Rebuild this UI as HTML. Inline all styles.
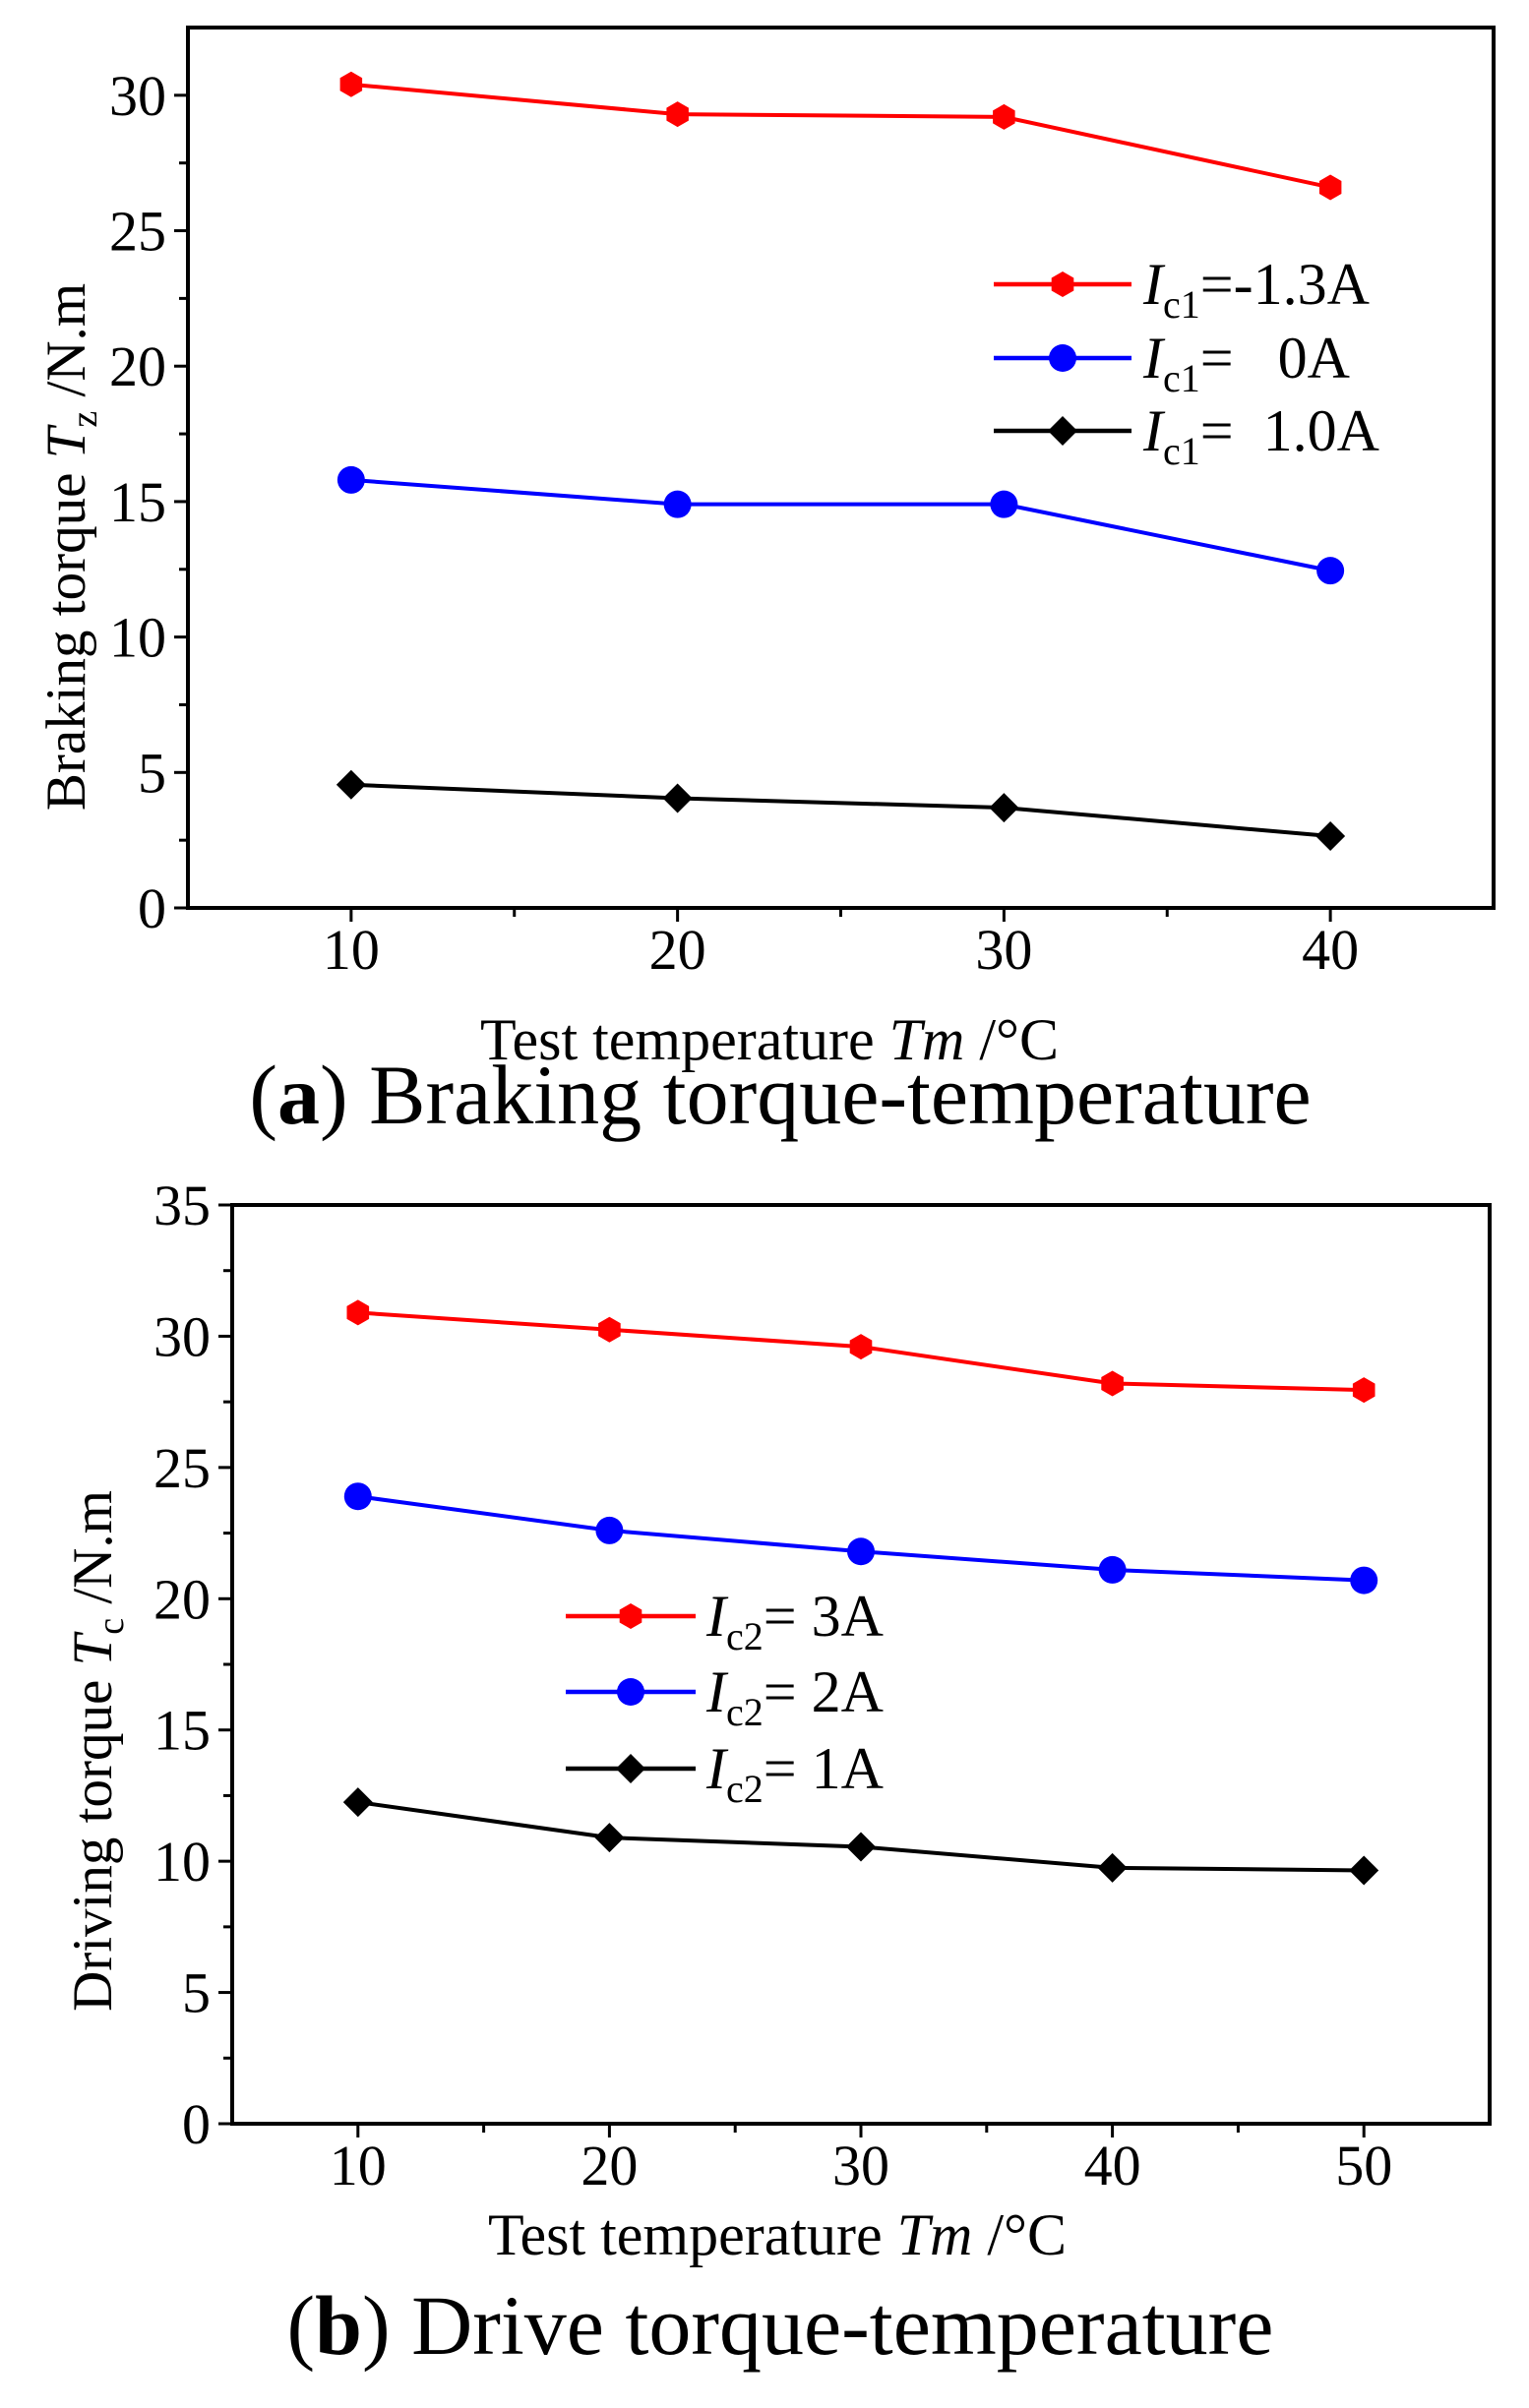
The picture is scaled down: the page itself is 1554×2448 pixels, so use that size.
<!DOCTYPE html>
<html><head><meta charset="utf-8"><style>
body{margin:0;background:#fff}
svg{display:block;font-family:"Liberation Serif",serif}
</style></head><body>
<svg id="s" width="1554" height="2448" viewBox="0 0 1554 2448" xmlns="http://www.w3.org/2000/svg"></svg>
<script>
const aX = [10, 20, 30, 40];
const aRed = [30.4, 29.3, 29.2, 26.6];
const aBlue = [15.8, 14.9, 14.9, 12.45];
const aBlack = [4.55, 4.05, 3.7, 2.65];
const aXTicks = [10, 20, 30, 40];
const aYTicks = [0, 5, 10, 15, 20, 25, 30];
const bX = [10, 20, 30, 40, 50];
const bRed = [30.9, 30.25, 29.6, 28.2, 27.95];
const bBlue = [23.9, 22.6, 21.8, 21.1, 20.7];
const bBlack = [12.25, 10.9, 10.55, 9.75, 9.65];
const bXTicks = [10, 20, 30, 40, 50];
const bYTicks = [0, 5, 10, 15, 20, 25, 30, 35];

const S = document.getElementById('s');
const NS = 'http://www.w3.org/2000/svg';
function mk(tag, attrs, parent){const e=document.createElementNS(NS,tag);for(const k in attrs)e.setAttribute(k,attrs[k]);(parent||S).appendChild(e);return e;}

function marker(g, type, x, y, color){
  let e;
  if(type==='hex'){
    const r=13, pts=[];
    for(let i=0;i<6;i++){const a=Math.PI/6+i*Math.PI/3;pts.push((x+r*Math.cos(a)).toFixed(1)+','+(y+r*Math.sin(a)).toFixed(1));}
    e=mk('polygon',{points:pts.join(' '),fill:color},g);
  } else if(type==='circle'){
    e=mk('circle',{cx:x,cy:y,r:14,fill:color},g);
  } else {
    const r=15;
    e=mk('polygon',{points:`${x},${y-r} ${x+r},${y} ${x},${y+r} ${x-r},${y}`,fill:color},g);
  }
  
  
}

function chart(c){
  const g=mk('g',{});
  
  
  const sx=v=>c.L+(v-c.xmin)/(c.xmax-c.xmin)*(c.R-c.L);
  const sy=v=>c.B-(v-c.ymin)/(c.ymax-c.ymin)*(c.B-c.T);
  c.yTicks.forEach((t,i)=>{
    const y=sy(t);
    const tk=mk('line',{x1:c.L-14,x2:c.L,y1:y,y2:y,stroke:'#000','stroke-width':3},g);
    
    
    const ym=sy(t+c.yStep/2);
    if(ym>c.T){mk('line',{x1:c.L-9,x2:c.L,y1:ym,y2:ym,stroke:'#000','stroke-width':3},g);}
    const tx=mk('text',{x:c.L-22,y:y+20,'text-anchor':'end','font-size':58},g);
    tx.textContent=t;
    
    
  });
  c.xTicks.forEach((t,i)=>{
    const x=sx(t);
    const tk=mk('line',{x1:x,x2:x,y1:c.B,y2:c.B+14,stroke:'#000','stroke-width':3},g);
    
    
    const xm=sx(t+5);
    if(xm<c.R)mk('line',{x1:xm,x2:xm,y1:c.B,y2:c.B+9,stroke:'#000','stroke-width':3},g);
    const tx=mk('text',{x:x,y:c.xLabY,'text-anchor':'middle','font-size':58},g);
    tx.textContent=t;
    
    
  });
  const box=mk('rect',{x:c.L,y:c.T,width:c.R-c.L,height:c.B-c.T,fill:'none',stroke:'#000','stroke-width':4},g);
  
  
  c.series.forEach(s=>{
    const sg=mk('g',{},g);
    
    
    const pts=c.xs.map((x,i)=>sx(x)+','+sy(s.v[i])).join(' ');
    mk('polyline',{points:pts,fill:'none',stroke:s.color,'stroke-width':4},sg);
    c.xs.forEach((x,i)=>marker(sg,s.type,sx(x),sy(s.v[i]),s.color));
  });
  c.series.forEach((s,i)=>{
    const lg=mk('g',{},g);
    
    
    const y=c.legY[i];
    mk('line',{x1:c.legX1,x2:c.legX2,y1:y,y2:y,stroke:s.color,'stroke-width':4.5},lg);
    marker(lg,s.type,(c.legX1+c.legX2)/2,y,s.color);
    const t=mk('text',{x:c.legT,y:y+20,'font-size':60},lg);
    t.innerHTML=`<tspan font-style="italic">I</tspan><tspan font-size="40" dy="14">${c.sub}</tspan><tspan dy="-14" xml:space="preserve">${s.label}</tspan>`;
  });
  const yt=mk('text',{x:0,y:0,'text-anchor':'middle','font-size':57,transform:`translate(${c.yTitleX},${c.yTitleY}) rotate(-90)`},g);
  yt.innerHTML=`${c.yTitle} <tspan font-style="italic">T</tspan><tspan font-size="38" dy="12">${c.ySub}</tspan><tspan dy="-12"> /N.m</tspan>`;
  
  
  const xt=mk('text',{x:c.xTitleX,y:c.xTitleY,'text-anchor':'middle','font-size':60},g);
  xt.innerHTML='Test temperature <tspan font-style="italic">Tm</tspan> /°C';
  
  
  const cap=mk('text',{x:c.capX,y:c.capY,'text-anchor':'middle','font-size':86},g);
  cap.innerHTML=`(<tspan font-weight="bold">${c.capL}</tspan>) ${c.cap}`;
  
  
}

chart({id:'chart-a',L:191,R:1518,T:28,B:923,xmin:5,xmax:45,ymin:0,ymax:32.5,yStep:5,
  xs:aX,xTicks:aXTicks,yTicks:aYTicks,xLabY:985,
  series:[{name:'series-red',v:aRed,color:'#ff0000',type:'hex',label:'=-1.3A'},
          {name:'series-blue',v:aBlue,color:'#0000ff',type:'circle',label:'=   0A'},
          {name:'series-black',v:aBlack,color:'#000000',type:'diamond',label:'=  1.0A'}],
  legX1:1010,legX2:1150,legT:1162,legY:[289,364,438],sub:'c1',
  yTitle:'Braking torque',ySub:'z',yTitleX:86,yTitleY:556,
  xTitleX:782,xTitleY:1077,capX:793,capY:1142,capL:'a',cap:'Braking torque-temperature'});

chart({id:'chart-b',L:236,R:1514,T:1225,B:2159,xmin:5,xmax:55,ymin:0,ymax:35,yStep:5,
  xs:bX,xTicks:bXTicks,yTicks:bYTicks,xLabY:2221,
  series:[{name:'series-red',v:bRed,color:'#ff0000',type:'hex',label:'= 3A'},
          {name:'series-blue',v:bBlue,color:'#0000ff',type:'circle',label:'= 2A'},
          {name:'series-black',v:bBlack,color:'#000000',type:'diamond',label:'= 1A'}],
  legX1:575,legX2:707,legT:718,legY:[1643,1720,1798],sub:'c2',
  yTitle:'Driving torque',ySub:'c',yTitleX:113,yTitleY:1780,
  xTitleX:790,xTitleY:2292,capX:793,capY:2393,capL:'b',cap:'Drive torque-temperature'});
</script>
</body></html>
